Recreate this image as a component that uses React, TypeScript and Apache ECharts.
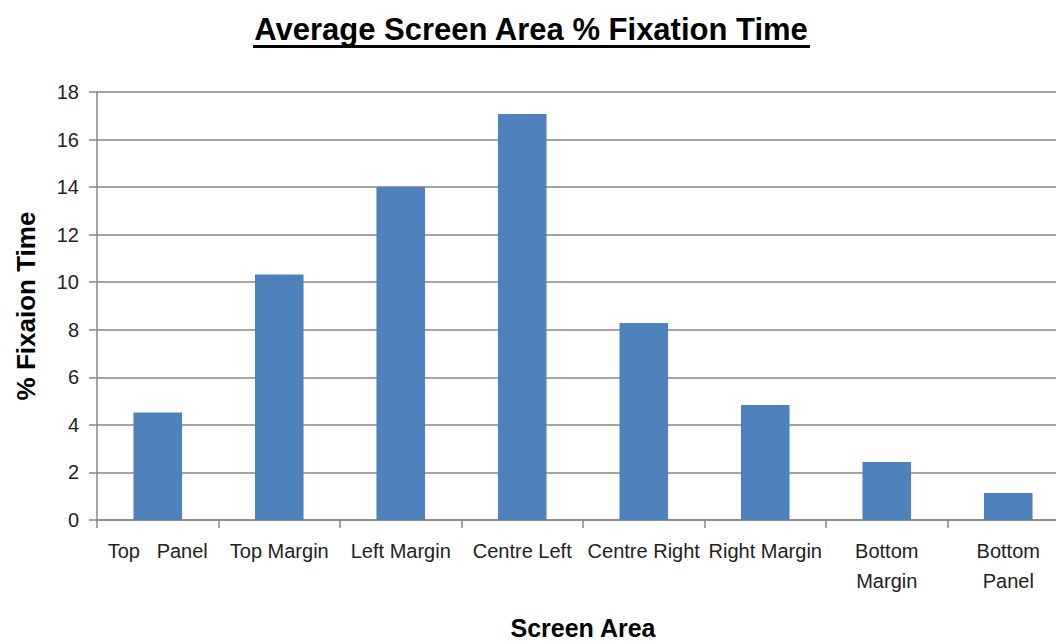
import React, { useEffect, useRef } from "react";
import * as echarts from "echarts";

const categories = ["Top   Panel", "Top Margin", "Left Margin", "Centre Left", "Centre Right", "Right Margin", "Bottom\nMargin", "Bottom\nPanel"];
const fixationValues = [4.52, 10.33, 14.0, 17.08, 8.28, 4.84, 2.44, 1.14];
const yTicks = { min: 0, max: 18, interval: 2 };
const titleText = "Average Screen Area % Fixation Time";
const xAxisName = "Screen Area";
const yAxisName = "% Fixaion Time";

const FONT = "'Liberation Sans', Arial, sans-serif";

export default function App() {
  const ref = useRef<HTMLDivElement>(null);
  useEffect(() => {
    if (!ref.current) return;
    const chart = echarts.init(ref.current, undefined, { renderer: "svg" });
    chart.setOption({
      animation: false,
      backgroundColor: "#ffffff",
      grid: { left: 97, top: 92, width: 972, height: 428, containLabel: false, outerBoundsMode: "none" },
      graphic: [
        {
          type: "text",
          x: 531,
          y: 14,
          style: { text: titleText, font: `bold 31px ${FONT}`, fill: "#000", textAlign: "center" },
        },
        {
          type: "rect",
          shape: { x: 253, y: 45, width: 557, height: 3 },
          style: { fill: "#000" },
        },
      ],
      xAxis: {
        type: "category",
        data: categories,
        name: xAxisName,
        nameLocation: "middle",
        nameGap: 95,
        nameTextStyle: { fontFamily: FONT, fontWeight: "bold", fontSize: 25, color: "#000" },
        axisLine: { lineStyle: { color: "#868686", width: 1.5 } },
        axisTick: { show: true, length: 8, lineStyle: { color: "#868686", width: 1.5 } },
        axisLabel: { fontFamily: FONT, fontSize: 20, color: "#222", margin: 16, lineHeight: 30, interval: 0 },
      },
      yAxis: {
        type: "value",
        min: yTicks.min,
        max: yTicks.max,
        interval: yTicks.interval,
        name: yAxisName,
        nameLocation: "middle",
        nameGap: 58,
        nameTextStyle: { fontFamily: FONT, fontWeight: "bold", fontSize: 26, color: "#000" },
        axisLine: { show: true, lineStyle: { color: "#868686", width: 1.5 } },
        axisTick: { show: true, length: 8, lineStyle: { color: "#868686", width: 1.5 } },
        axisLabel: { fontFamily: FONT, fontSize: 20, color: "#222", margin: 18 },
        splitLine: { lineStyle: { color: "#868686", width: 1.5 } },
      },
      series: [
        {
          type: "bar",
          data: fixationValues,
          barWidth: "40%",
          itemStyle: { color: "#4F81BD" },
        },
      ],
    });
    return () => chart.dispose();
  }, []);
  return <div ref={ref} style={{ width: 1064, height: 641, margin: "-8px 0 0 -8px" }} />;
}
